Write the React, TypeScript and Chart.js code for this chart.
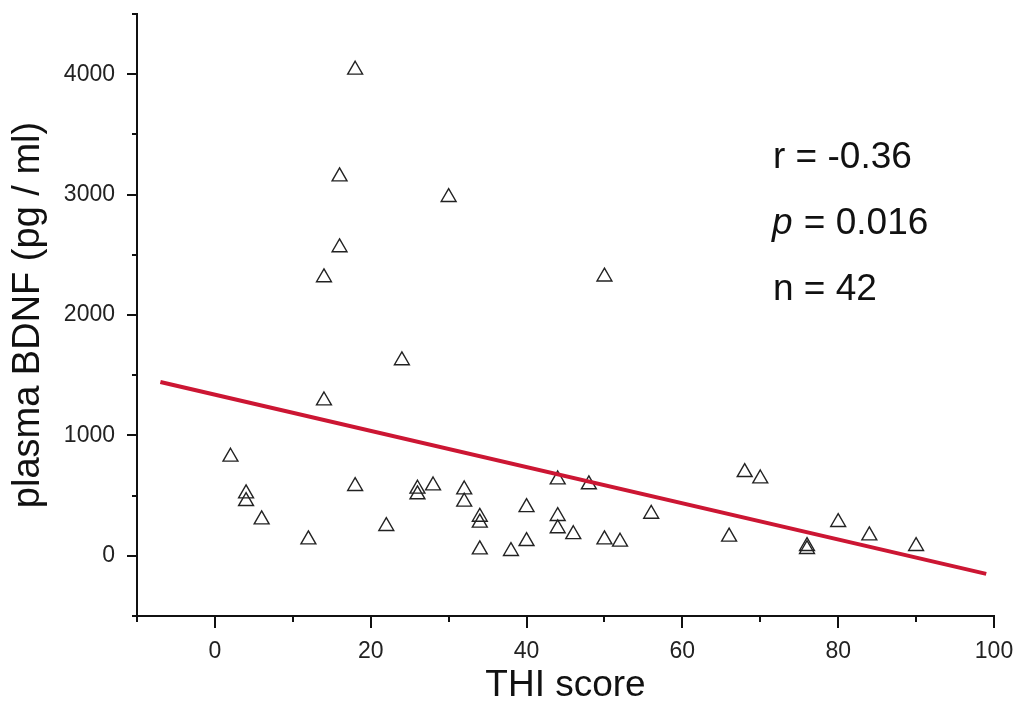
import React, { useEffect, useRef } from "react";
import { Chart, registerables } from "chart.js";

Chart.register(...registerables);

// THI score (x) and plasma BDNF in pg/ml (y)
const thiScore = [
  2, 4, 4, 6, 12, 14, 14, 16, 16, 18, 18, 22, 24, 26, 26, 28, 30, 32, 32, 34, 34,
  34, 38, 40, 40, 44, 44, 44, 46, 48, 50, 50, 52, 56, 66, 68, 70, 76, 76, 80, 84, 90,
];
const bdnf = [
  822, 517, 453, 301, 135, 2312, 1289, 3150, 2561, 4036, 578, 246, 1623, 556, 509,
  583, 2979, 550, 448, 323, 274, 52, 38, 403, 121, 633, 329, 227, 178, 592, 2318,
  135, 116, 348, 158, 694, 641, 80, 55, 279, 168, 80,
];

// regression line end points
const fitX = [-7, 99];
const fitY = [1444, -150];

// axis ranges and tick steps
const xRange = [-10, 100];
const yRange = [-500, 4500];
const xMinorStep = 10;
const xMajorStep = 20;
const yMinorStep = 500;
const yMajorStep = 1000;

const xTitle = "THI score";
const yTitle = "plasma BDNF (pg / ml)";

// statistics text: [italic part, plain part]
const statLines: [string, string][] = [
  ["", "r = -0.36"],
  ["p", " = 0.016"],
  ["", "n = 42"],
];

const FONT = "'Liberation Sans', Arial, Helvetica, sans-serif";

const tickMarks = {
  id: "tickMarks",
  afterDraw(chart: any) {
    const { ctx, scales } = chart;
    const x = scales.x;
    const y = scales.y;
    ctx.save();
    ctx.strokeStyle = "#111";
    ctx.lineWidth = 2;
    y.ticks.forEach((t: any) => {
      const py = Math.round(y.getPixelForValue(t.value));
      const len = t.value % yMajorStep === 0 ? 10 : 5;
      ctx.beginPath();
      ctx.moveTo(x.left - len, py);
      ctx.lineTo(x.left, py);
      ctx.stroke();
    });
    x.ticks.forEach((t: any) => {
      const px = Math.round(x.getPixelForValue(t.value));
      const len = t.value % xMajorStep === 0 ? 12 : 6;
      ctx.beginPath();
      ctx.moveTo(px, y.bottom);
      ctx.lineTo(px, y.bottom + len);
      ctx.stroke();
    });
    ctx.restore();
  },
};

const statsText = {
  id: "statsText",
  afterDraw(chart: any) {
    const { ctx } = chart;
    ctx.save();
    ctx.fillStyle = "#111";
    ctx.textBaseline = "alphabetic";
    ctx.textAlign = "left";
    statLines.forEach(([it, rest], i) => {
      let px = 773;
      const py = 168 + i * 66;
      if (it) {
        ctx.font = `italic 37px ${FONT}`;
        ctx.fillText(it, px - 1, py);
        px += ctx.measureText(it).width;
      }
      ctx.font = `37px ${FONT}`;
      ctx.fillText(rest, px, py);
    });
    ctx.restore();
  },
};

export default function App() {
  const ref = useRef<HTMLCanvasElement | null>(null);

  useEffect(() => {
    document.body.style.margin = "0";
    document.documentElement.style.overflow = "hidden";
    const canvas = ref.current;
    if (!canvas) return;

    const points = thiScore.map((v, i) => ({ x: v, y: bdnf[i] }));
    const fit = fitX.map((v, i) => ({ x: v, y: fitY[i] }));

    const chart = new Chart(canvas, {
      type: "scatter",
      data: {
        datasets: [
          {
            label: "fit",
            data: fit,
            showLine: true,
            borderColor: "#cc1633",
            borderWidth: 4,
            pointRadius: 0,
            pointHoverRadius: 0,
          } as any,
          {
            label: "BDNF",
            data: points,
            pointStyle: "triangle",
            pointRadius: 8.6,
            pointHoverRadius: 8.6,
            borderColor: "#222",
            borderWidth: 1.4,
            backgroundColor: "rgba(0,0,0,0)",
          } as any,
        ],
      },
      options: {
        animation: false,
        responsive: false,
        devicePixelRatio: 1,
        layout: { padding: { top: 14, right: 27, left: 0, bottom: 0 } },
        plugins: {
          legend: { display: false },
          tooltip: { enabled: false },
        },
        scales: {
          x: {
            type: "linear",
            min: xRange[0],
            max: xRange[1],
            afterFit: (s: any) => {
              s.height = 92;
              s.paddingLeft = 0;
              s.paddingRight = 0;
            },
            grid: { display: true, drawOnChartArea: false, drawTicks: false },
            border: { display: true, color: "#111", width: 2 },
            ticks: {
              stepSize: xMinorStep,
              autoSkip: false,
              maxRotation: 0,
              padding: 22,
              color: "#222",
              font: { family: FONT, size: 23 },
              callback: (v: any) =>
                Number(v) % xMajorStep === 0 && Number(v) >= 0 ? String(v) : "",
            },
            title: {
              display: true,
              text: xTitle,
              color: "#111",
              font: { family: FONT, size: 37, lineHeight: 1.2 },
              padding: { top: 0, bottom: 0 },
            },
          },
          y: {
            type: "linear",
            min: yRange[0],
            max: yRange[1],
            afterFit: (s: any) => {
              s.width = 137;
              s.paddingTop = 0;
              s.paddingBottom = 0;
            },
            grid: { display: true, drawOnChartArea: false, drawTicks: false },
            border: { display: true, color: "#111", width: 2 },
            ticks: {
              stepSize: yMinorStep,
              autoSkip: false,
              padding: 22,
              color: "#222",
              font: { family: FONT, size: 23 },
              callback: (v: any) =>
                Number(v) % yMajorStep === 0 && Number(v) >= 0 ? String(v) : "",
            },
            title: {
              display: true,
              text: yTitle,
              color: "#111",
              font: { family: FONT, size: 38, lineHeight: 1.2 },
              padding: { top: 6, bottom: 0 },
            },
          },
        },
      },
      plugins: [tickMarks, statsText],
    });

    return () => chart.destroy();
  }, []);

  return (
    <div style={{ width: 1021, height: 708, background: "#fff" }}>
      <canvas ref={ref} width={1021} height={708} style={{ display: "block" }} />
    </div>
  );
}
